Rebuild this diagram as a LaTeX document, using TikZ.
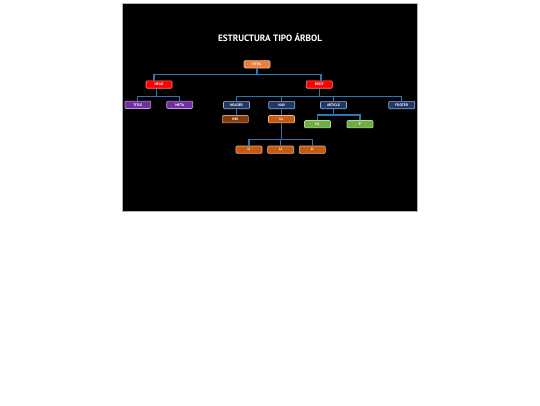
\documentclass[tikz,border=0pt]{standalone}
\usepackage{fontspec}
\setmainfont{PT Sans}
\definecolor{conn}{HTML}{2E75B6}
\definecolor{orA}{HTML}{EE7F3B}\definecolor{orAb}{HTML}{F8B890}
\definecolor{redA}{HTML}{FF0000}\definecolor{redAb}{HTML}{FF8A8A}
\definecolor{purA}{HTML}{7030A0}\definecolor{purAb}{HTML}{B9A0D6}
\definecolor{navA}{HTML}{1F3864}\definecolor{navAb}{HTML}{8FAADC}
\definecolor{brA}{HTML}{843C0C}\definecolor{brAb}{HTML}{C8A080}
\definecolor{orB}{HTML}{C55A11}\definecolor{orBb}{HTML}{F4B183}
\definecolor{grA}{HTML}{70AD47}\definecolor{grAb}{HTML}{B5D99C}
\tikzset{
  tag/.style={draw, line width=0.6pt, rounded corners=1pt, minimum width=26pt, minimum height=7.4pt, inner sep=0pt, text=white, font=\fontsize{3.6}{3.8}\selectfont\bfseries},
  htmltag/.style={tag, fill=orA, draw=orAb},
  redtag/.style={tag, fill=redA, draw=redAb},
  purtag/.style={tag, fill=purA, draw=purAb},
  navtag/.style={tag, fill=navA, draw=navAb},
  brtag/.style={tag, fill=brA, draw=brAb},
  ortag/.style={tag, fill=orB, draw=orBb},
  grtag/.style={tag, fill=grA, draw=grAb},
  link/.style={draw=conn, line width=1.2pt},
}
\begin{document}
\begin{tikzpicture}[x=1pt,y=-1pt]
\useasboundingbox (0,0) rectangle (540,405);
\fill[white] (0,0) rectangle (540,405);
\filldraw[fill=black, draw=gray!60, line width=0.3pt] (122.5,3) rectangle (417.5,211);
\node[text=white, font=\fontsize{9.2}{10}\selectfont\bfseries] (ttl) at (270,37.7) {ESTRUCTURA TIPO ÁRBOL};
% nodes
\node[htmltag] (html) at (257,64.3) {HTML};
\node[redtag] (head) at (159,84.5) {HEAD};
\node[redtag] (body) at (319.3,84.5) {BODY};
\node[purtag] (title) at (137.8,104.8) {TITLE};
\node[purtag] (meta) at (179.7,104.8) {META};
\node[navtag] (header) at (236.5,105) {HEADER};
\node[navtag] (nav) at (281.7,105) {NAV};
\node[navtag] (article) at (333.5,105) {ARTICLE};
\node[navtag] (footer) at (401.7,105) {FOOTER};
\node[brtag] (img) at (235.3,119.2) {IMG};
\node[ortag] (ul) at (281.5,119.2) {UL};
\node[grtag] (h1) at (317.5,124.2) {H1};
\node[grtag] (p) at (360,124.2) {P};
\node[ortag] (li1) at (249,149.7) {LI};
\node[ortag] (li2) at (280.7,149.7) {LI};
\node[ortag] (li3) at (312.3,149.7) {LI};
% connectors
\draw[link] (html.south) -- ++(0,6) -| ([xshift=-5pt]head.north);
\draw[link] (html.south) -- ++(0,6) -| ([xshift=1.7pt]body.north);
\draw[link] ([xshift=-2.3pt]head.south) -- ++(0,8) -| (title.north);
\draw[link] ([xshift=-2.3pt]head.south) -- ++(0,8) -| (meta.north);
\draw[link] (body.south) -- ++(0,8) -| (header.north);
\draw[link] (body.south) -- ++(0,8) -| (nav.north);
\draw[link] (body.south) -- ++(0,8) -| (article.north);
\draw[link] (body.south) -- ++(0,8) -| (footer.north);
\draw[link] (header.south) -- (img.north -| header.south);
\draw[link] (nav.south) -- (ul.north -| nav.south);
\draw[link] (article.south) -- ++(0,6) -| (h1.north);
\draw[link] (article.south) -- ++(0,6) -| (p.north);
\draw[link] (ul.south) -- ++(0,16.5) -| (li1.north);
\draw[link] (ul.south) -- ++(0,16.5) -| (li2.north);
\draw[link] (ul.south) -- ++(0,16.5) -| (li3.north);
\end{tikzpicture}
\end{document}
